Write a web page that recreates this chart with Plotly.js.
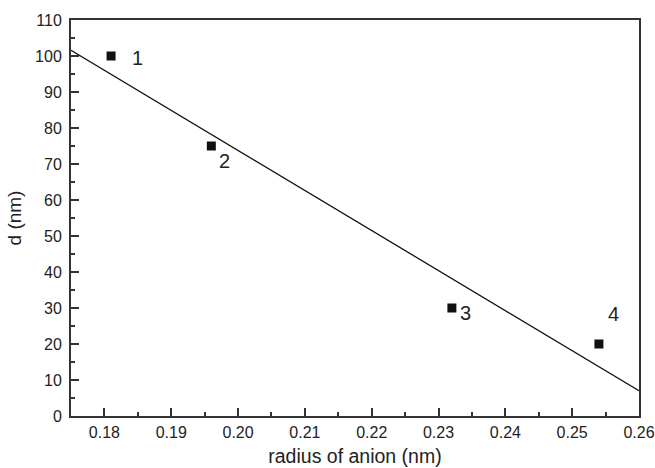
<!DOCTYPE html>
<html><head><meta charset="utf-8">
<script src="https://cdn.plot.ly/plotly-3.0.1.min.js"></script>
<style>html,body{margin:0;padding:0;background:#fff}#c{width:655px;height:468px}</style>
</head><body><div id="c"></div>
<script>
var radius = [0.181, 0.196, 0.232, 0.254];
var dValues = [100, 75, 30, 20];
var pointLabels = ['1', '2', '3', '4'];
var fitX = [0.175, 0.26];
var fitY = [101.6, 7.0];
var labelDx = [26, 13, 14, 15];
var labelDy = [-2, -15, -5, 30];

var font = 'Arial, "Liberation Sans", sans-serif';
var traces = [
  {x: fitX, y: fitY, mode: 'lines', line: {color: '#111', width: 1.3}, hoverinfo: 'skip'},
  {x: radius, y: dValues, mode: 'markers', marker: {symbol: 'square', size: 9, color: '#111'}}
];
var annotations = radius.map(function (x, i) {
  return {x: x, y: dValues[i], text: pointLabels[i], showarrow: false,
    xshift: labelDx[i], yshift: labelDy[i], font: {family: font, size: 20, color: '#222'}};
});
var axisCommon = {
  showgrid: false, zeroline: false, showline: true, mirror: true,
  linecolor: '#333', linewidth: 2, ticks: 'inside', ticklen: 8, tickwidth: 2, tickcolor: '#333',
  tickfont: {family: font, size: 16, color: '#222'}
};
var layout = {
  width: 655, height: 468, showlegend: false,
  paper_bgcolor: '#fff', plot_bgcolor: '#fff',
  margin: {l: 71, r: 16, t: 20, b: 52},
  xaxis: Object.assign({}, axisCommon, {
    range: [0.175, 0.26], tickvals: [0.18, 0.19, 0.20, 0.21, 0.22, 0.23, 0.24, 0.25, 0.26],
    ticktext: ['0.18', '0.19', '0.20', '0.21', '0.22', '0.23', '0.24', '0.25', '0.26'],
    ticklabelstandoff: 1,
    minor: {ticks: 'inside', ticklen: 4, tickwidth: 2, tickcolor: '#333', tick0: 0.175, dtick: 0.01},
    title: {text: 'radius of anion (nm)', font: {family: font, size: 19.5, color: '#222'}, standoff: 9}
  }),
  yaxis: Object.assign({}, axisCommon, {
    range: [0, 110], dtick: 10, tick0: 0, ticklabelstandoff: 4,
    minor: {ticks: 'inside', ticklen: 4, tickwidth: 2, tickcolor: '#333', tick0: 5, dtick: 10},
    title: {text: 'd (nm)', font: {family: font, size: 19, color: '#222'}, standoff: 8}
  }),
  annotations: annotations
};
Plotly.newPlot('c', traces, layout, {staticPlot: true, displayModeBar: false});
</script></body></html>
